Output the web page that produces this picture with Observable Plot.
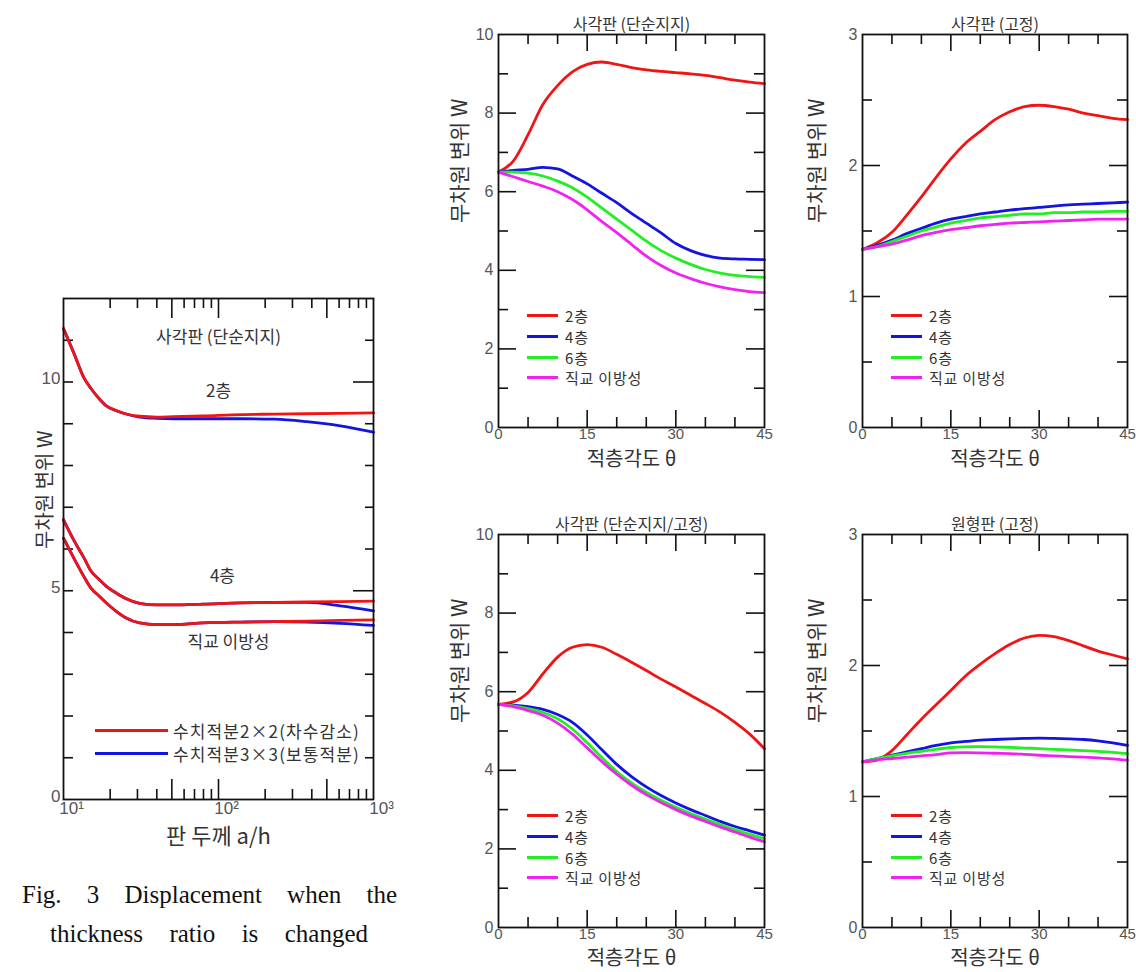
<!DOCTYPE html>
<html>
<head>
<meta charset="utf-8">
<script src="https://cdn.jsdelivr.net/npm/d3@7"></script>
<script src="https://cdn.jsdelivr.net/npm/@observablehq/plot@0.6"></script>
<style>
  body { margin: 0; background: #fff; }
  #root { position: relative; width: 1136px; height: 972px; overflow: hidden; background: #fff; }
  .legend { position: absolute; font-family: "Noto Sans CJK KR", sans-serif; color: #333; line-height: 1; }
  .legend .row { display: flex; align-items: center; white-space: nowrap; }
  .legend .sw { display: inline-block; height: 3px; }
  .legend .tx { line-height: 1; }
  .caption { position: absolute; font-family: "Liberation Serif", serif; font-size: 25px; line-height: 28px; color: #111; text-align: justify; text-align-last: justify; white-space: nowrap; }
</style>
</head>
<body>
<div id="root"></div>
<script>
// ---------------- DATA ----------------
// Left chart: thickness ratio a/h (log axis)
const ahRatio = [10, 11.7, 13.5, 15, 17, 19, 22, 25, 31, 40, 51, 80, 140, 230, 370, 610, 1000];
const methods = ["수치적분2×2(차수감소)", "수치적분3×3(보통적분)"];
const methodColors = ["#f01414", "#1414e0"];
const leftGroups = ["2층", "4층", "직교 이방성"];
// reduced integration 2x2
const red2 = [11.28, 10.68, 10.11, 9.85, 9.60, 9.42, 9.31, 9.24, 9.18, 9.16, 9.17, 9.19, 9.22, 9.23, 9.24, 9.25, 9.26];
const red4 = [6.70, 6.20, 5.80, 5.48, 5.27, 5.10, 4.94, 4.82, 4.70, 4.66, 4.66, 4.68, 4.71, 4.72, 4.73, 4.74, 4.75];
const redOrtho = [6.26, 5.77, 5.35, 5.07, 4.87, 4.70, 4.50, 4.36, 4.23, 4.19, 4.19, 4.23, 4.25, 4.26, 4.27, 4.29, 4.30];
// full integration 3x3
const blue2 = [11.28, 10.68, 10.11, 9.85, 9.60, 9.42, 9.31, 9.24, 9.16, 9.13, 9.12, 9.12, 9.12, 9.11, 9.05, 8.95, 8.80];
const blue4 = [6.70, 6.20, 5.80, 5.48, 5.27, 5.10, 4.94, 4.82, 4.70, 4.66, 4.66, 4.68, 4.71, 4.72, 4.72, 4.64, 4.52];
const blueOrtho = [6.26, 5.77, 5.35, 5.07, 4.87, 4.70, 4.50, 4.36, 4.23, 4.19, 4.19, 4.23, 4.25, 4.26, 4.25, 4.22, 4.17];
// label anchors for the left chart (data units: a/h, W)
const leftNotes = [
  {ah: 100, w: 9.78, text: "2층"},
  {ah: 106, w: 5.35, text: "4층"},
  {ah: 116, w: 3.76, text: "직교 이방성"}
];
const leftTitle = "사각판 (단순지지)";
const leftXTicks = [10, 100, 1000];
const leftXTickLabels = ["10¹", "10²", "10³"];
const leftYTicks = [0, 5, 10];

// Right charts: lamination angle θ
const angles = [0, 2.5, 5, 7.5, 10, 12.5, 15, 17.5, 20, 22.5, 25, 27.5, 30, 32.5, 35, 37.5, 40, 42.5, 45];
const layerSeries = ["2층", "4층", "6층", "직교 이방성"];
const layerColors = ["#f01414", "#1414e0", "#22ee22", "#f022f0"];
const angleTicks = [0, 15, 30, 45];

// 사각판 (단순지지)
const ssL2 = [6.50, 6.78, 7.45, 8.22, 8.70, 9.05, 9.24, 9.30, 9.24, 9.16, 9.10, 9.06, 9.03, 9.00, 8.96, 8.90, 8.84, 8.79, 8.75];
const ssL4 = [6.50, 6.54, 6.57, 6.62, 6.58, 6.40, 6.20, 5.96, 5.72, 5.45, 5.20, 4.95, 4.68, 4.50, 4.38, 4.31, 4.29, 4.28, 4.27];
const ssL6 = [6.50, 6.50, 6.47, 6.40, 6.27, 6.10, 5.86, 5.58, 5.30, 5.02, 4.74, 4.50, 4.31, 4.15, 4.02, 3.93, 3.87, 3.84, 3.82];
const ssOrtho = [6.50, 6.38, 6.26, 6.14, 6.00, 5.80, 5.54, 5.24, 4.96, 4.66, 4.36, 4.12, 3.93, 3.79, 3.67, 3.58, 3.51, 3.46, 3.43];
// 사각판 (고정)
const clL2 = [1.36, 1.41, 1.49, 1.62, 1.76, 1.91, 2.05, 2.17, 2.26, 2.35, 2.41, 2.45, 2.46, 2.45, 2.43, 2.40, 2.38, 2.36, 2.35];
const clL4 = [1.36, 1.39, 1.43, 1.48, 1.52, 1.56, 1.59, 1.61, 1.63, 1.645, 1.66, 1.67, 1.68, 1.69, 1.70, 1.705, 1.71, 1.715, 1.72];
const clL6 = [1.36, 1.38, 1.42, 1.46, 1.50, 1.53, 1.56, 1.58, 1.60, 1.61, 1.62, 1.63, 1.63, 1.64, 1.64, 1.645, 1.645, 1.65, 1.65];
const clOrtho = [1.36, 1.38, 1.40, 1.43, 1.465, 1.49, 1.51, 1.525, 1.54, 1.55, 1.56, 1.565, 1.57, 1.575, 1.58, 1.585, 1.59, 1.59, 1.59];
// 사각판 (단순지지/고정)
const scL2 = [5.68, 5.74, 5.98, 6.45, 6.88, 7.13, 7.20, 7.13, 6.95, 6.75, 6.54, 6.32, 6.12, 5.91, 5.70, 5.48, 5.22, 4.92, 4.55];
const scL4 = [5.68, 5.66, 5.62, 5.55, 5.42, 5.22, 4.90, 4.52, 4.15, 3.84, 3.58, 3.36, 3.17, 3.00, 2.85, 2.70, 2.57, 2.46, 2.35];
const scL6 = [5.68, 5.64, 5.57, 5.47, 5.31, 5.05, 4.70, 4.32, 3.97, 3.68, 3.44, 3.24, 3.06, 2.90, 2.76, 2.62, 2.49, 2.37, 2.26];
const scOrtho = [5.68, 5.62, 5.52, 5.40, 5.20, 4.92, 4.57, 4.22, 3.90, 3.62, 3.38, 3.18, 3.00, 2.84, 2.70, 2.56, 2.43, 2.30, 2.18];
// 원형판 (고정)
const ciL2 = [1.265, 1.28, 1.35, 1.47, 1.59, 1.70, 1.81, 1.92, 2.01, 2.09, 2.16, 2.21, 2.23, 2.22, 2.19, 2.15, 2.11, 2.08, 2.05];
const ciL4 = [1.265, 1.29, 1.315, 1.34, 1.365, 1.39, 1.41, 1.42, 1.43, 1.435, 1.44, 1.443, 1.445, 1.443, 1.44, 1.435, 1.425, 1.41, 1.39];
const ciL6 = [1.265, 1.29, 1.31, 1.33, 1.345, 1.36, 1.374, 1.379, 1.38, 1.379, 1.375, 1.37, 1.366, 1.36, 1.355, 1.35, 1.345, 1.337, 1.328];
const ciOrtho = [1.265, 1.28, 1.29, 1.30, 1.31, 1.32, 1.333, 1.335, 1.333, 1.33, 1.328, 1.322, 1.315, 1.31, 1.305, 1.30, 1.295, 1.287, 1.277];

const yLabelText = "무차원 변위 W";
const angleLabelText = "적층각도 θ";
const thicknessLabelText = "판 두께 a/h";
const captionLines = ["Fig. 3 Displacement when the", "thickness ratio is changed"];

// ---------------- RENDER ----------------
const root = document.getElementById("root");
const KR = "Noto Sans CJK KR";
const NUM = "Liberation Sans";
const INK = "#111";

function place(svg, left, top) {
  svg.style.position = "absolute";
  svg.style.left = left + "px";
  svg.style.top = top + "px";
  root.appendChild(svg);
}

function legend(entries, colors, {left, top, lineW, gap, rowH, fontSize, spacing = 0}) {
  const box = document.createElement("div");
  box.className = "legend";
  box.style.left = left + "px";
  box.style.top = (top - rowH / 2) + "px";
  box.style.fontSize = fontSize + "px";
  entries.forEach((e, i) => {
    const row = document.createElement("div");
    row.className = "row";
    row.style.height = rowH + "px";
    const sw = document.createElement("span");
    sw.className = "sw";
    sw.style.width = lineW + "px";
    sw.style.background = colors[i];
    const tx = document.createElement("span");
    tx.className = "tx";
    tx.style.marginLeft = gap + "px";
    tx.style.letterSpacing = spacing + "px";
    tx.textContent = e;
    row.appendChild(sw); row.appendChild(tx);
    box.appendChild(row);
  });
  root.appendChild(box);
}

// ---- Left chart ----
(function () {
  const width = 400, height = 580, mL = 63, mR = 27, mT = 18, mB = 61;
  const pw = width - mL - mR, ph = height - mT - mB;
  const rows = [];
  const blue = [blue2, blue4, blueOrtho], red = [red2, red4, redOrtho];
  leftGroups.forEach((g, gi) => blue[gi].forEach((w, j) => rows.push({ah: ahRatio[j], w, method: methods[1], key: g + "b"})));
  leftGroups.forEach((g, gi) => red[gi].forEach((w, j) => rows.push({ah: ahRatio[j], w, method: methods[0], key: g + "r"})));
  const xMinor = [20, 30, 40, 60, 70, 80, 90, 200, 300, 400, 600, 700, 800, 900];
  const xMajor = [50, 100, 500];
  const yAll = d3.range(1, 12, 1);
  const yMajor = [5, 10];
  const yMinor = yAll.filter(v => !yMajor.includes(v));
  const tick = {stroke: INK, strokeWidth: 1.6};
  const svg = Plot.plot({
    width, height, marginLeft: mL, marginRight: mR, marginTop: mT, marginBottom: mB,
    style: {background: "transparent", overflow: "visible", fontFamily: NUM, color: "#555"},
    x: {type: "log", domain: [10, 1000]},
    y: {domain: [0, 12]},
    color: {domain: methods, range: methodColors},
    marks: [
      Plot.tickX(xMinor, {x: d => d, insetTop: ph - 10, ...tick}),
      Plot.tickX(xMajor, {x: d => d, insetTop: ph - 20, ...tick}),
      Plot.tickX(xMinor, {x: d => d, insetBottom: ph - 10, ...tick}),
      Plot.tickX(xMajor, {x: d => d, insetBottom: ph - 20, ...tick}),
      Plot.tickY(yAll, {y: d => d, insetRight: pw - 10, ...tick}),
      Plot.tickY(yMinor, {y: d => d, insetLeft: pw - 8, ...tick}),
      Plot.tickY(yMajor, {y: d => d, insetLeft: pw - 20, ...tick}),
      Plot.line(rows, {x: "ah", y: "w", z: "key", stroke: "method", strokeWidth: 2.8, curve: "monotone-x"}),
      Plot.frame({stroke: INK, strokeWidth: 1.8}),
      Plot.axisX({ticks: leftXTicks, tickSize: 0, tickPadding: 2, fontSize: 17, label: null, dx: 8,
        tickFormat: d => leftXTickLabels[leftXTicks.indexOf(d)]}),
      Plot.axisY({ticks: leftYTicks, tickSize: 0, tickPadding: 3, fontSize: 17, label: null, dy: -3}),
      Plot.text([leftTitle], {text: d => d, frameAnchor: "top", dy: 32, fontSize: 17, fontFamily: KR, fill: "#333"}),
      Plot.text(leftNotes, {x: "ah", y: "w", text: "text", fontSize: 17, fontFamily: KR, fill: "#333"}),
      Plot.text([thicknessLabelText], {text: d => d, frameAnchor: "bottom", dy: 44, fontSize: 22, fontFamily: KR, fill: "#333"}),
      Plot.text([yLabelText], {text: d => d, frameAnchor: "left", rotate: -90, dx: -18, fontSize: 20, fontFamily: KR, fill: "#333"})
    ]
  });
  place(svg, 0, 280);
  legend(methods, methodColors, {left: 95, top: 730, lineW: 73, gap: 5, rowH: 23, fontSize: 17, spacing: 1.1});
})();

// ---- Angle charts ----
function anglePanel({title, yMax, yStep, yLabelStep, series, left, top, width, height, mL, mR, mT, mB, ylabDx, xlabDy, legendLeft, legendTop}) {
  const pw = width - mL - mR, ph = height - mT - mB;
  const rows = [];
  layerSeries.forEach((s, i) => series[i].forEach((w, j) => rows.push({angle: angles[j], w, series: s})));
  const xMinor = [5, 10, 20, 25, 35, 40], xMajor = [15, 30];
  const yAll = d3.range(yStep, yMax, yStep);
  const isMajor = v => Math.abs(v / yLabelStep - Math.round(v / yLabelStep)) < 1e-9;
  const yMajor = yAll.filter(isMajor), yMinor = yAll.filter(v => !isMajor(v));
  const yLabels = d3.range(0, yMax + yLabelStep / 2, yLabelStep);
  const tick = {stroke: INK, strokeWidth: 1.6};
  const svg = Plot.plot({
    width, height, marginLeft: mL, marginRight: mR, marginTop: mT, marginBottom: mB,
    style: {background: "transparent", overflow: "visible", fontFamily: NUM, color: "#555"},
    x: {domain: [0, 45]},
    y: {domain: [0, yMax]},
    color: {domain: layerSeries, range: layerColors},
    marks: [
      Plot.tickX(xMinor, {x: d => d, insetTop: ph - 10, ...tick}),
      Plot.tickX(xMajor, {x: d => d, insetTop: ph - 17, ...tick}),
      Plot.tickX(xMinor, {x: d => d, insetBottom: ph - 10, ...tick}),
      Plot.tickX(xMajor, {x: d => d, insetBottom: ph - 17, ...tick}),
      Plot.tickY(yMinor, {y: d => d, insetRight: pw - 10, ...tick}),
      Plot.tickY(yMajor, {y: d => d, insetRight: pw - 18, ...tick}),
      Plot.tickY(yMinor, {y: d => d, insetLeft: pw - 10, ...tick}),
      Plot.tickY(yMajor, {y: d => d, insetLeft: pw - 18, ...tick}),
      Plot.line(rows, {x: "angle", y: "w", z: "series", stroke: "series", strokeWidth: 2.8, curve: "monotone-x"}),
      Plot.frame({stroke: INK, strokeWidth: 1.8}),
      Plot.axisX({ticks: angleTicks, tickSize: 0, tickPadding: 1, fontSize: 15, label: null, tickFormat: d => String(d)}),
      Plot.axisY({ticks: yLabels, tickSize: 0, tickPadding: 5, fontSize: 16, label: null, tickFormat: d => String(d)}),
      Plot.text([title], {text: d => d, frameAnchor: "top", dy: -16, fontSize: 16, fontFamily: KR, fill: "#333"}),
      Plot.text([angleLabelText], {text: d => d, frameAnchor: "bottom", dy: xlabDy, fontSize: 20, fontFamily: KR, fill: "#333"}),
      Plot.text([yLabelText], {text: d => d, frameAnchor: "left", rotate: -90, dx: ylabDx, dy: -8, fontSize: 21, fontFamily: KR, fill: "#333"})
    ]
  });
  place(svg, left, top);
  legend(layerSeries, layerColors, {left: legendLeft, top: legendTop, lineW: 31, gap: 7, rowH: 20.6, fontSize: 15, spacing: 0.8});
}

anglePanel({title: "사각판 (단순지지)", yMax: 10, yStep: 1, yLabelStep: 2, series: [ssL2, ssL4, ssL6, ssOrtho],
  left: 430, top: 0, width: 350, height: 482, mL: 68, mR: 16, mT: 34, mB: 55, ylabDx: -38, xlabDy: 38, legendLeft: 527, legendTop: 316});
anglePanel({title: "사각판 (고정)", yMax: 3, yStep: 0.5, yLabelStep: 1, series: [clL2, clL4, clL6, clOrtho],
  left: 790, top: 0, width: 346, height: 482, mL: 72, mR: 9, mT: 34, mB: 55, ylabDx: -45, xlabDy: 38, legendLeft: 891, legendTop: 316});
anglePanel({title: "사각판 (단순지지/고정)", yMax: 10, yStep: 1, yLabelStep: 2, series: [scL2, scL4, scL6, scOrtho],
  left: 430, top: 500, width: 350, height: 472, mL: 68, mR: 16, mT: 34, mB: 45, ylabDx: -38, xlabDy: 37, legendLeft: 527, legendTop: 816});
anglePanel({title: "원형판 (고정)", yMax: 3, yStep: 0.5, yLabelStep: 1, series: [ciL2, ciL4, ciL6, ciOrtho],
  left: 790, top: 500, width: 346, height: 472, mL: 72, mR: 9, mT: 34, mB: 45, ylabDx: -45, xlabDy: 37, legendLeft: 891, legendTop: 816});

// ---- Caption ----
const cap1 = document.createElement("div");
cap1.className = "caption";
cap1.style.left = "22px"; cap1.style.top = "881px"; cap1.style.width = "375px";
cap1.textContent = captionLines[0];
root.appendChild(cap1);
const cap2 = document.createElement("div");
cap2.className = "caption";
cap2.style.left = "50px"; cap2.style.top = "920px"; cap2.style.width = "318px";
cap2.textContent = captionLines[1];
root.appendChild(cap2);
</script>
</body>
</html>
